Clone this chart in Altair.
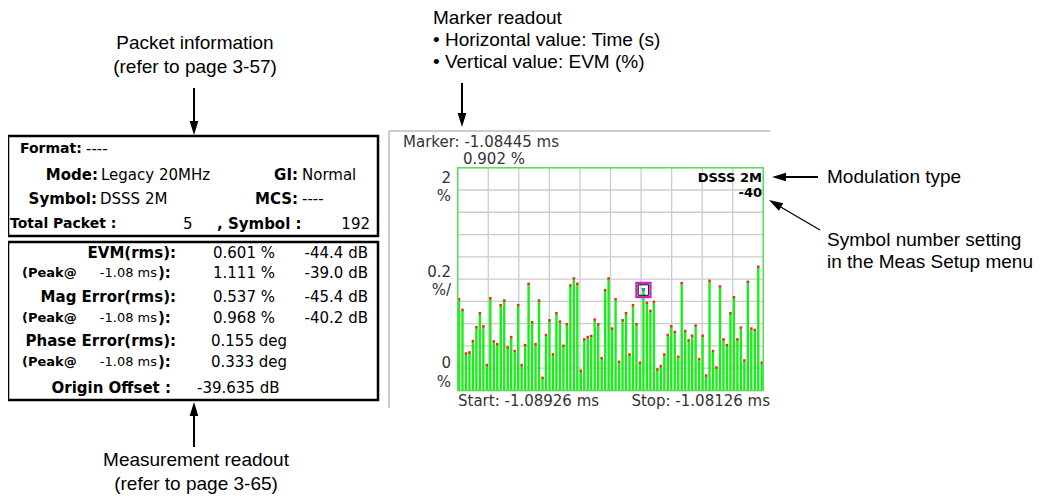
import altair as alt
import pandas as pd
import math

# ---------------- data ----------------
symbol_index = list(range(1, 89))
evm_percent = [0.820, 0.724, 0.333, 0.342, 0.444, 0.568, 0.694, 0.577, 0.228, 0.829,
               0.441, 0.417, 0.766, 0.808, 0.387, 0.480, 0.354, 0.766, 0.228, 0.408,
               0.958, 0.613, 0.417, 0.808, 0.114, 0.498, 0.631, 0.324, 0.694, 0.619,
               0.402, 0.595, 0.943, 1.006, 0.958, 0.177, 0.459, 0.480, 0.489, 0.637,
               0.595, 0.291, 0.901, 1.006, 0.556, 0.820, 0.258, 0.631, 0.694, 0.324,
               0.766, 0.595, 0.249, 0.902, 0.787, 0.715, 0.796, 0.189, 0.219, 0.324,
               0.498, 0.577, 0.526, 0.303, 0.964, 0.535, 0.450, 0.492, 0.583, 0.282,
               0.492, 0.135, 0.985, 0.354, 0.207, 0.934, 0.459, 0.408, 0.694, 0.838,
               0.459, 0.565, 0.270, 0.976, 0.556, 0.544, 1.111, 0.249]
marker_symbol = [54]
marker_evm = [0.902]
grid_levels = [0.0, 0.2, 0.4, 0.6, 0.8, 1.0, 1.2, 1.4, 1.6, 1.8, 2.0]
grid_divisions = [0, 1, 2, 3, 4, 5, 6, 7, 8, 9, 10]

y_tick_labels = ["2", "%", "0.2", "%/", "0", "%"]
marker_text = ["Marker: -1.08445 ms", "0.902 %"]
span_text = ["Start: -1.08926 ms", "Stop: -1.08126 ms"]
mod_text = ["DSSS 2M", "-40"]

packet_labels = ["Format:", "Mode:", "GI:", "Symbol:", "MCS:", "Total Packet :", ", Symbol :"]
packet_values = ["----", "Legacy 20MHz", "Normal", "DSSS 2M", "----", "5", "192"]

meas_labels = ["EVM(rms):", "Mag Error(rms):", "Phase Error(rms):", "Origin Offset :"]
peak_label = ["(Peak@", "-1.08 ms", "):"]
meas_values = ["0.601 %", "1.111 %", "0.537 %", "0.968 %", "0.155 deg", "0.333 deg", "-39.635 dB"]
meas_db = ["-44.4 dB", "-39.0 dB", "-45.4 dB", "-40.2 dB"]

notes = ["Packet information", "(refer to page 3-57)",
         "Marker readout", "\u2022 Horizontal value: Time (s)", "\u2022 Vertical value: EVM (%)",
         "Modulation type", "Symbol number setting", "in the Meas Setup menu",
         "Measurement readout", "(refer to page 3-65)"]

# ---------------- helpers ----------------
OX, OY = 8, 8
one = pd.DataFrame({"k": [0]})
SCREEN = "DejaVu Sans"
NOTE = "Liberation Sans"


def T(s, X, Y, size=15, weight="normal", align="left", font=SCREEN, color="#000"):
    return alt.Chart(one).mark_text(fontSize=size, fontWeight=weight, align=align, font=font,
                                    color=color, baseline="middle").encode(
        x=alt.value(X - OX), y=alt.value(Y - OY), text=alt.value(s))


def L(X1, Y1, X2, Y2, color="#000", w=2.0):
    return alt.Chart(one).mark_rule(color=color, strokeWidth=w).encode(
        x=alt.value(X1 - OX), y=alt.value(Y1 - OY), x2=alt.value(X2 - OX), y2=alt.value(Y2 - OY))


def R(X1, Y1, X2, Y2, color="#000", w=2.5):
    return alt.Chart(one).mark_rect(fillOpacity=0, stroke=color, strokeWidth=w).encode(
        x=alt.value(X1 - OX), y=alt.value(Y1 - OY), x2=alt.value(X2 - OX), y2=alt.value(Y2 - OY))


HEAD = "M-0.62,-1L0.62,-1L0,1Z"


def H(tipX, tipY, angle, length=14):
    a = math.radians(angle)
    dx, dy = -math.sin(a), math.cos(a)
    cx, cy = tipX - dx * length / 2, tipY - dy * length / 2
    return alt.Chart(one).mark_point(shape=HEAD, filled=True, color="#000", opacity=1,
                                     size=length * length, angle=angle, strokeWidth=0).encode(
        x=alt.value(cx - OX), y=alt.value(cy - OY))


# ---------------- plot (through scales) ----------------
X0, X1 = 457.7 - OX, 763.3 - OX
YB, YT = 390.5 - OY, 167.7 - OY
xs = alt.Scale(domain=[0.626, 88.446], range=[X0, X1], nice=False, zero=False)
ys = alt.Scale(domain=[0, 2], range=[YB, YT], nice=False, zero=False)
gs = alt.Scale(domain=[0, 10], range=[X0, X1], nice=False, zero=False)

df = pd.DataFrame({"symbol": symbol_index, "evm": evm_percent})
dm = pd.DataFrame({"symbol": marker_symbol, "evm": marker_evm})

hgrid = alt.Chart(pd.DataFrame({"lvl": grid_levels})).mark_rule(color="#cccccc", strokeWidth=1.3).encode(
    y=alt.Y("lvl:Q", scale=ys, axis=None), x=alt.value(X0), x2=alt.value(X1))
vgrid = alt.Chart(pd.DataFrame({"div": grid_divisions})).mark_rule(color="#cccccc", strokeWidth=1.3).encode(
    x=alt.X("div:Q", scale=gs, axis=None), y=alt.value(YT), y2=alt.value(YB))
bars = alt.Chart(df).mark_rule(color="#1aee1a", strokeWidth=2.4).encode(
    x=alt.X("symbol:Q", scale=xs, axis=None),
    y=alt.Y("evm:Q", scale=ys, axis=None),
    y2=alt.datum(0))
dots = alt.Chart(df).mark_square(color="#ff2020", size=6, opacity=1).encode(
    x=alt.X("symbol:Q", scale=xs, axis=None),
    y=alt.Y("evm:Q", scale=ys, axis=None))
mk_outer = alt.Chart(dm).mark_point(shape="square", size=200, color="#cc22cc", strokeWidth=2.2,
                                    filled=False, opacity=1).encode(
    x=alt.X("symbol:Q", scale=xs, axis=None), y=alt.Y("evm:Q", scale=ys, axis=None))
mk_inner = alt.Chart(dm).mark_point(shape="square", size=110, color="#000", strokeWidth=1,
                                    filled=False, opacity=1).encode(
    x=alt.X("symbol:Q", scale=xs, axis=None), y=alt.Y("evm:Q", scale=ys, axis=None))
mk_tri = alt.Chart(dm).mark_point(shape="triangle-down", size=22, color="#2a9a9a", filled=True,
                                  opacity=1).encode(
    x=alt.X("symbol:Q", scale=xs, axis=None), y=alt.Y("evm:Q", scale=ys, axis=None))

layers = [
    # screen frame
    L(389, 131, 770, 131, "#9a9a9a", 1), L(389, 131, 389, 408, "#9a9a9a", 1),
    hgrid, vgrid, bars, dots, mk_outer, mk_inner, mk_tri,
    R(457.7, 167.7, 763.3, 390.5, "#55e055", 1.5),
    T(marker_text[0], 403, 141.5, color="#333"),
    T(marker_text[1], 463, 159, color="#333"),
    T(y_tick_labels[0], 451, 178, align="right", color="#333"),
    T(y_tick_labels[1], 451, 196, align="right", color="#333"),
    T(y_tick_labels[2], 451, 272, align="right", color="#333"),
    T(y_tick_labels[3], 451, 290, align="right", color="#333"),
    T(y_tick_labels[4], 451, 363, align="right", color="#333"),
    T(y_tick_labels[5], 451, 382, align="right", color="#333"),
    T(span_text[0], 458, 401, color="#333"),
    T(span_text[1], 770, 401, align="right", color="#333"),
    T(mod_text[0], 762, 178, 13, "bold", "right"),
    T(mod_text[1], 762, 193, 13, "bold", "right"),
    # left boxes
    R(8, 136, 378, 236), R(8, 242, 378, 400),
    T(packet_labels[0], 20, 149, 14, weight="bold"), T(packet_values[0], 86, 149),
    T(packet_labels[1], 98, 175, weight="bold", align="right"), T(packet_values[1], 101, 175),
    T(packet_labels[2], 298, 175, weight="bold", align="right"), T(packet_values[2], 302, 175),
    T(packet_labels[3], 97, 199, weight="bold", align="right"), T(packet_values[3], 100, 199),
    T(packet_labels[4], 298, 199, weight="bold", align="right"), T(packet_values[4], 302, 199),
    T(packet_labels[5], 10, 224, 14, weight="bold"), T(packet_values[5], 183, 224),
    T(packet_labels[6], 217, 224, weight="bold"), T(packet_values[6], 370, 224, align="right"),
    T(meas_labels[0], 176, 253, weight="bold", align="right"),
    T(meas_values[0], 213, 253), T(meas_db[0], 368, 253, align="right"),
    T(peak_label[0], 22, 273, 13, "bold"), T(peak_label[1], 157, 273, 13, align="right"),
    T(peak_label[2], 158, 273, weight="bold"),
    T(meas_values[1], 213, 273), T(meas_db[1], 368, 273, align="right"),
    T(meas_labels[1], 176, 297, weight="bold", align="right"),
    T(meas_values[2], 213, 297), T(meas_db[2], 368, 297, align="right"),
    T(peak_label[0], 22, 318, 13, "bold"), T(peak_label[1], 157, 318, 13, align="right"),
    T(peak_label[2], 158, 318, weight="bold"),
    T(meas_values[3], 213, 318), T(meas_db[3], 368, 318, align="right"),
    T(meas_labels[2], 176, 341, weight="bold", align="right"),
    T(meas_values[4], 211, 341),
    T(peak_label[0], 22, 362, 13, "bold"), T(peak_label[1], 157, 362, 13, align="right"),
    T(peak_label[2], 158, 362, weight="bold"),
    T(meas_values[5], 211, 362),
    T(meas_labels[3], 171, 388, weight="bold", align="right"),
    T(meas_values[6], 197, 388),
    # annotations
    T(notes[0], 195, 43, 19, align="center", font=NOTE),
    T(notes[1], 195, 67, 19, align="center", font=NOTE),
    L(194, 88, 194, 124), H(194, 135, 0),
    T(notes[2], 433, 18, 19, font=NOTE),
    T(notes[3], 433, 40, 19, font=NOTE),
    T(notes[4], 433, 62, 19, font=NOTE),
    L(462, 83, 462, 116), H(462, 127, 0),
    T(notes[5], 827, 177, 19, font=NOTE),
    L(818, 177, 783, 177), H(772, 177, 90),
    T(notes[6], 827, 240, 19, font=NOTE),
    T(notes[7], 827, 262, 19, font=NOTE),
    L(820, 230, 779, 206, w=1.3), H(769, 200, 120.5),
    T(notes[8], 196, 460, 19, align="center", font=NOTE),
    T(notes[9], 196, 483.5, 19, align="center", font=NOTE),
    L(194, 447, 194, 413), H(194, 402, 180),
]

chart = alt.layer(*layers).resolve_scale(x="independent", y="independent").properties(
    width=1028, height=486, padding=0, autosize=alt.AutoSizeParams(type="none"),
    background="white",
).configure_view(stroke=None)

chart.save("out.html", embed_options={"renderer": "svg", "actions": False})
